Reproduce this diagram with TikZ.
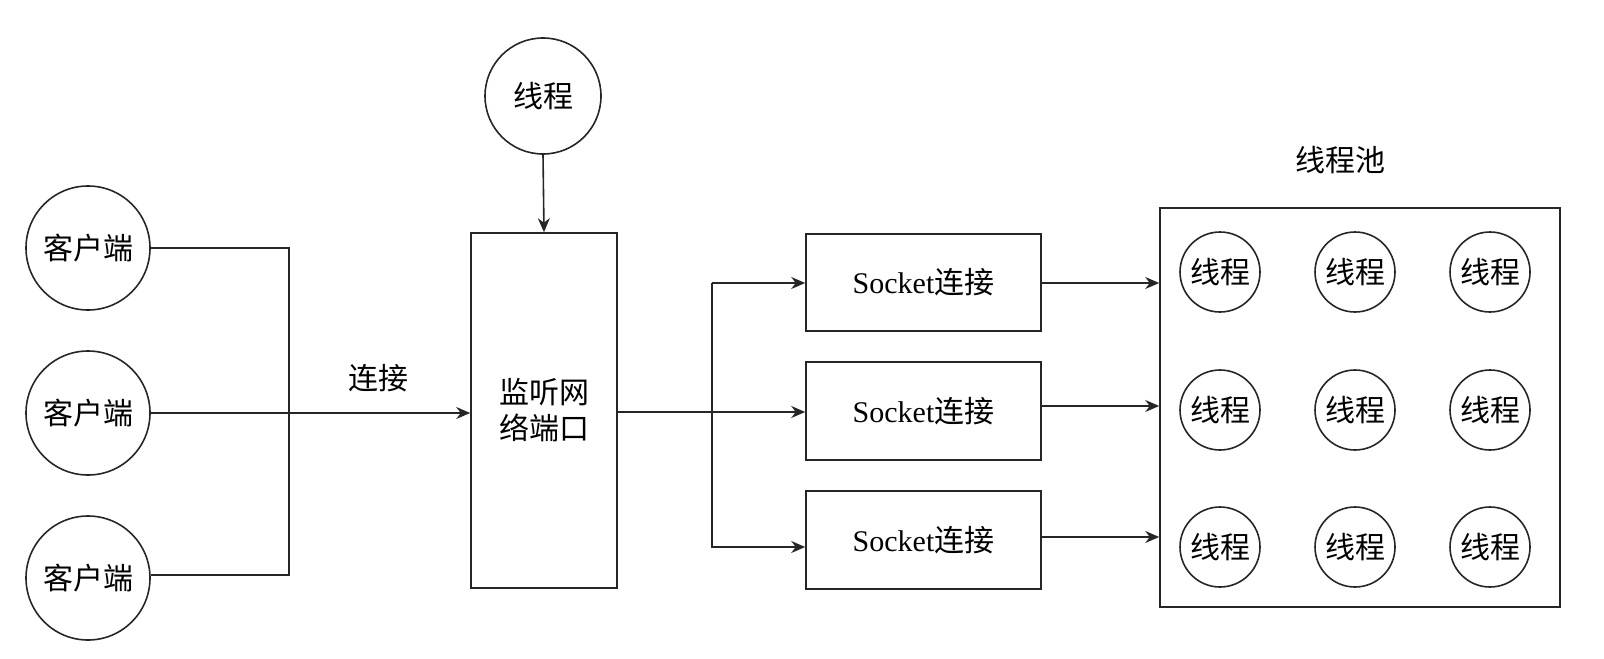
\documentclass[tikz,border=0pt]{standalone}
\usepackage{fontspec}
\setmainfont{Liberation Serif}
\newfontfamily\cjk{Noto Sans CJK SC}
\usetikzlibrary{arrows.meta}
\begin{document}
\begin{tikzpicture}[x=0.5pt,y=-0.5pt,
  every node/.style={font=\fontsize{15}{18}\selectfont},
  line/.style={line width=0.8pt,draw=black!85},
  arr/.style={line,-{Stealth[length=7pt,width=6pt]}},
  box/.style={rectangle,line,inner sep=0pt}]
\node[circle,line,minimum size=62pt,inner sep=0pt] (c1) at (88,248) {\cjk 客户端};
\node[circle,line,minimum size=62pt,inner sep=0pt] (c2) at (88,413) {\cjk 客户端};
\node[circle,line,minimum size=62pt,inner sep=0pt] (c3) at (88,578) {\cjk 客户端};
\node[circle,line,minimum size=58pt,inner sep=0pt] (t) at (543,96) {\cjk 线程};
\node[box,minimum width=73pt,minimum height=177.5pt] (L) at (544,410.5) {};
\node[align=center] at (L) {\cjk 监听网\\\cjk 络端口};
\coordinate (j) at (289,413);
\draw[line] (c1.east) -- (289,248) -- (289,575) -- (c3.east |- 0,575);
\draw[arr] (c2.east) -- (L.west |- c2);
\node at (378,378) {\cjk 连接};
\draw[arr] (t.south) -- (L.north);
\node[box,minimum width=117.5pt,minimum height=48.5pt] (s1) at (923.5,282.5) {Socket\cjk 连接};
\node[box,minimum width=117.5pt,minimum height=49pt] (s2) at (923.5,411) {Socket\cjk 连接};
\node[box,minimum width=117.5pt,minimum height=49pt] (s3) at (923.5,540) {Socket\cjk 连接};
\coordinate (b) at (712,412);
\draw[line] (L.east |- b) -- (b);
\draw[arr] (712,283) -- (s1.west |- 0,283);
\draw[arr] (b) -- (s2.west |- b);
\draw[arr] (712,283) -- (712,547) -- (s3.west |- 0,547);
\node[box,minimum width=200pt,minimum height=199.5pt] (P) at (1360,407.5) {};
\node at (1340,160) {\cjk 线程池};
\draw[arr] (s1.east |- 0,283) -- (P.west |- 0,283);
\draw[arr] (s2.east |- 0,406) -- (P.west |- 0,406);
\draw[arr] (s3.east |- 0,537) -- (P.west |- 0,537);
\foreach \x in {1220,1355,1490}{
 \foreach \y in {272,410,547}{
  \node[circle,line,minimum size=40pt,inner sep=0pt] at (\x,\y) {\cjk 线程};
 }}
\pgfresetboundingbox
\useasboundingbox (0,0) rectangle (1604,658);
\end{tikzpicture}
\end{document}
